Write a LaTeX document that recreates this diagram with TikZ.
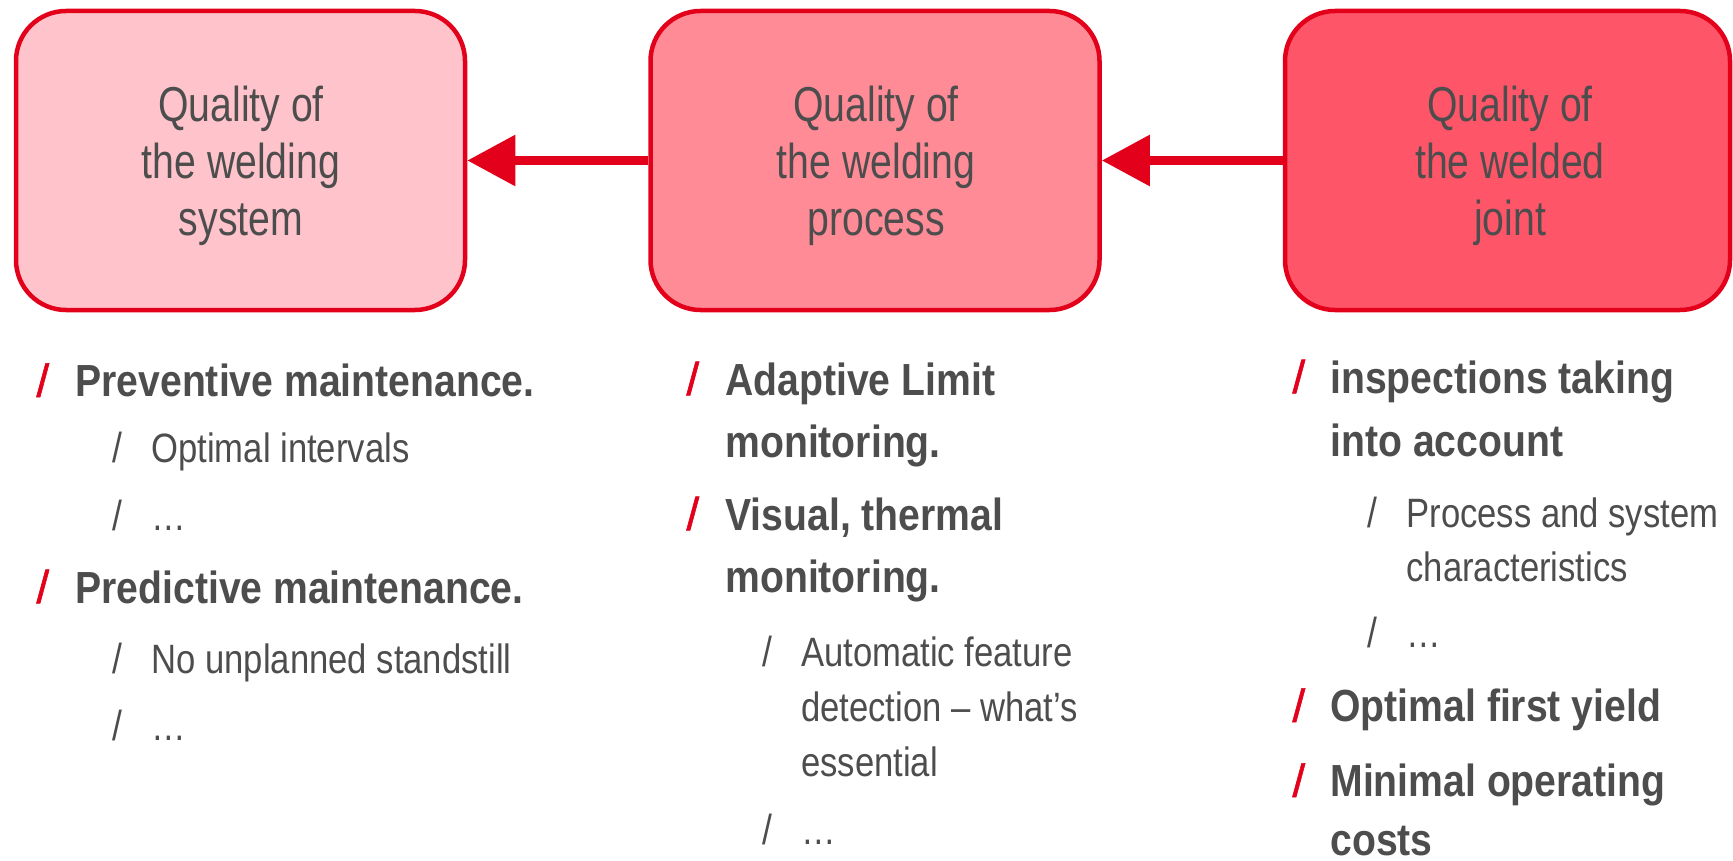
\documentclass[tikz,border=0pt]{standalone}
\usepackage{fontspec}
\usetikzlibrary{arrows.meta}
\newfontfamily\boxfont{Liberation Sans}[FakeStretch=0.80]
\newfontfamily\bfont{Liberation Sans}[FakeStretch=0.87]
\newfontfamily\sfont{Liberation Sans}[FakeStretch=0.845]
\newfontfamily\slfont{Liberation Sans}[FakeBold=1.2]
\definecolor{fred}{HTML}{E2001A}
\definecolor{fillA}{HTML}{FFC4CB}
\definecolor{fillB}{HTML}{FF8B96}
\definecolor{fillC}{HTML}{FF5569}
\definecolor{txtgray}{HTML}{4D4D4D}
\tikzset{
  qbox/.style={draw=fred, line width=2.25pt, rounded corners=25pt, minimum width=224.5pt, minimum height=149.5pt, inner sep=0pt},
  boxtxt/.style={font=\boxfont\fontsize{24.5pt}{28pt}\selectfont, text=txtgray, inner sep=0pt, anchor=base},
  btxt/.style={font=\bfont\bfseries\fontsize{22.5pt}{26pt}\selectfont, text=txtgray, inner sep=0pt, anchor=base west},
  stxt/.style={font=\sfont\fontsize{20.5pt}{24pt}\selectfont, text=txtgray, inner sep=0pt, anchor=base west},
  redsl/.style={font=\slfont\fontsize{23pt}{26pt}\selectfont, text=fred, inner sep=0pt, anchor=base west},
  graysl/.style={font=\sfont\fontsize{21pt}{24pt}\selectfont, text=txtgray, inner sep=0pt, anchor=base west},
  arr/.style={draw=fred, line width=4.5pt, -{Triangle[length=24pt,width=24.5pt]}}
}
\begin{document}
\begin{tikzpicture}[x=0.5pt,y=-0.5pt]
\useasboundingbox (0,0) rectangle (1733,861);
% boxes
\node[qbox, fill=fillA] (b1) at (240.5,160.5) {};
\node[qbox, fill=fillB] (b2) at (875,160.5) {};
\node[qbox, fill=fillC, minimum width=222.5pt] (b3) at (1507.5,160.5) {};
% box texts
\node[boxtxt] (b1a) at (241,121.7) {Quality of};
\node[boxtxt] (b1b) at (241,178.3) {the welding};
\node[boxtxt] (b1c) at (241,235) {system};
\node[boxtxt] (b2a) at (876,121.7) {Quality of};
\node[boxtxt] (b2b) at (876,178.3) {the welding};
\node[boxtxt] (b2c) at (876,235) {process};
\node[boxtxt] (b3a) at (1510,121.7) {Quality of};
\node[boxtxt] (b3b) at (1510,178.3) {the welded};
\node[boxtxt] (b3c) at (1510,235) {joint};
% arrows
\draw[arr] (b2) -- (b1);
\draw[arr] (b3) -- (b2);
% column 1
\node[redsl] (s11) at (36,396.7) {/};
\node[btxt] (t11) at (75,396.7) {Preventive maintenance.};
\node[graysl] (s12) at (112,462) {/};
\node[stxt] (t12) at (151,462) {Optimal intervals};
\node[graysl] (s13) at (112,530) {/};
\node[stxt] (t13) at (151,530) {…};
\node[redsl] (s14) at (36,603) {/};
\node[btxt] (t14) at (75,603) {Predictive maintenance.};
\node[graysl] (s15) at (112,673) {/};
\node[stxt] (t15) at (151,673) {No unplanned standstill};
\node[graysl] (s16) at (112,740) {/};
\node[stxt] (t16) at (151,740) {…};
% column 2
\node[redsl] (s21) at (686,395) {/};
\node[btxt] (t21a) at (725,395) {Adaptive Limit};
\node[btxt] (t21b) at (725,457) {monitoring.};
\node[redsl] (s22) at (686,530) {/};
\node[btxt] (t22a) at (725,530) {Visual, thermal};
\node[btxt] (t22b) at (725,592) {monitoring.};
\node[graysl] (s23) at (762,666) {/};
\node[stxt] (t23a) at (800.7,666) {Automatic feature};
\node[stxt] (t23b) at (800.7,721.7) {detection – what’s};
\node[stxt] (t23c) at (800.7,776.7) {essential};
\node[graysl] (s24) at (762,844) {/};
\node[stxt] (t24) at (800.7,844) {…};
% column 3
\node[redsl] (s31) at (1292,393) {/};
\node[btxt] (t31a) at (1330,393) {inspections taking};
\node[btxt] (t31b) at (1330,456) {into account};
\node[graysl] (s32) at (1367,527) {/};
\node[stxt] (t32a) at (1406,527) {Process and system};
\node[stxt] (t32b) at (1406,581) {characteristics};
\node[graysl] (s33) at (1367,647) {/};
\node[stxt] (t33) at (1406,647) {…};
\node[redsl] (s34) at (1292,721.7) {/};
\node[btxt] (t34) at (1330,721.7) {Optimal first yield};
\node[redsl] (s35) at (1292,796.7) {/};
\node[btxt] (t35a) at (1330,796.7) {Minimal operating};
\node[btxt] (t35b) at (1330,855) {costs};
\end{tikzpicture}
\end{document}
